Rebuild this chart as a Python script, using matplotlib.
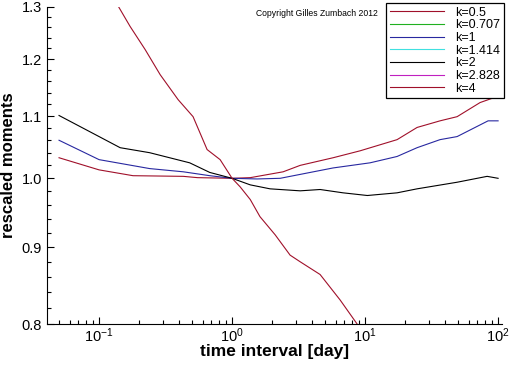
import numpy as np
import matplotlib
matplotlib.use('Agg')
import matplotlib.pyplot as plt
from matplotlib.ticker import FixedLocator, FormatStrFormatter, LogLocator, NullFormatter

plt.rcParams['font.family'] = ['Liberation Sans', 'DejaVu Sans']
plt.rcParams['mathtext.default'] = 'regular'

labels = ['k=0.5', 'k=0.707', 'k=1', 'k=1.414', 'k=2', 'k=2.828', 'k=4']
colors = ['#a0102a', '#20b020', '#2828a0', '#40e0e0', '#000000', '#c020c0', '#a0102a']

# k=0.5
x05 = [0.05, 0.1, 0.18, 0.43, 0.55, 1.0, 1.37, 2.42, 3.25, 5.75, 9.17, 17.4, 24.6, 36.6, 49.2, 73.2, 100]
y05 = [1.032, 1.013, 1.004, 1.003, 1.001, 1.0, 1.001, 1.010, 1.020, 1.032, 1.043, 1.061, 1.081, 1.092, 1.099, 1.123, 1.134]
# k=1
x1 = [0.05, 0.1, 0.24, 0.43, 0.68, 1.0, 1.54, 2.30, 3.25, 5.75, 10.9, 17.4, 24.6, 36.6, 49.2, 84.1, 100]
y1 = [1.060, 1.029, 1.015, 1.010, 1.004, 1.0, 0.999, 1.000, 1.006, 1.016, 1.024, 1.034, 1.048, 1.061, 1.066, 1.092, 1.092]
# k=2
x2 = [0.05, 0.1, 0.144, 0.24, 0.48, 0.68, 1.0, 1.37, 1.93, 3.25, 4.59, 6.83, 10.4, 17.4, 24.6, 49.2, 82.7, 100]
y2 = [1.101, 1.066, 1.048, 1.040, 1.024, 1.009, 1.0, 0.990, 0.984, 0.981, 0.983, 0.978, 0.974, 0.978, 0.984, 0.994, 1.003, 1.0]
# k=4
x4 = [0.137, 0.171, 0.222, 0.288, 0.393, 0.509, 0.649, 0.813, 1.0, 1.15, 1.37, 1.62, 2.11, 2.73, 3.25, 4.59, 6.49, 8.71]
y4 = [1.305, 1.262, 1.218, 1.172, 1.128, 1.099, 1.045, 1.029, 1.0, 0.987, 0.968, 0.943, 0.917, 0.889, 0.880, 0.863, 0.830, 0.800]

series = {'k=0.5': (x05, y05), 'k=1': (x1, y1), 'k=2': (x2, y2), 'k=4': (x4, y4)}

fig = plt.figure(figsize=(5.12, 3.66), dpi=100)
ax = fig.add_axes([47/512, 1-324/366, 455/512, 317/366])

for lab, c in zip(labels, colors):
    xs, ys = series.get(lab, ([], []))
    ax.plot(xs, ys, color=c, lw=0.8, label=lab)

ax.set_xscale('log')
ax.set_yscale('log')
ax.set_xlim(0.0406, 107)
ax.set_ylim(0.8, 1.3)

ax.yaxis.set_major_locator(FixedLocator([0.8, 0.9, 1.0, 1.1, 1.2, 1.3]))
ax.yaxis.set_major_formatter(FormatStrFormatter('%.1f'))
ax.yaxis.set_minor_locator(FixedLocator(np.arange(0.82, 1.3, 0.02)))
ax.yaxis.set_minor_formatter(NullFormatter())
ax.xaxis.set_minor_locator(LogLocator(base=10, subs=np.arange(2, 10)))
ax.xaxis.set_minor_formatter(NullFormatter())

for s in ['top', 'right']:
    ax.spines[s].set_visible(False)
ax.tick_params(which='both', direction='in', labelsize=10.5, width=0.8)
ax.tick_params(which='major', length=5)
ax.tick_params(which='minor', length=3)
ax.tick_params(axis='x', pad=2)

ax.set_xlabel('time interval [day]', fontsize=12.5, fontweight='bold', labelpad=-1)
ax.set_ylabel('rescaled moments', fontsize=12, fontweight='bold', labelpad=4)

leg = ax.legend(loc='upper left', bbox_to_anchor=(386/512, 1-3/366), bbox_transform=fig.transFigure,
                fontsize=9, frameon=True, fancybox=False, edgecolor='black', framealpha=1,
                handlelength=4.3, handletextpad=0.9, labelspacing=0.05, borderpad=0.3, borderaxespad=0)
leg.get_frame().set_linewidth(0.9)

fig.text(256/512, 1-14/366, 'Copyright Gilles Zumbach 2012', fontsize=6.2, va='center', ha='left')

fig.savefig('out.png', dpi=100)
